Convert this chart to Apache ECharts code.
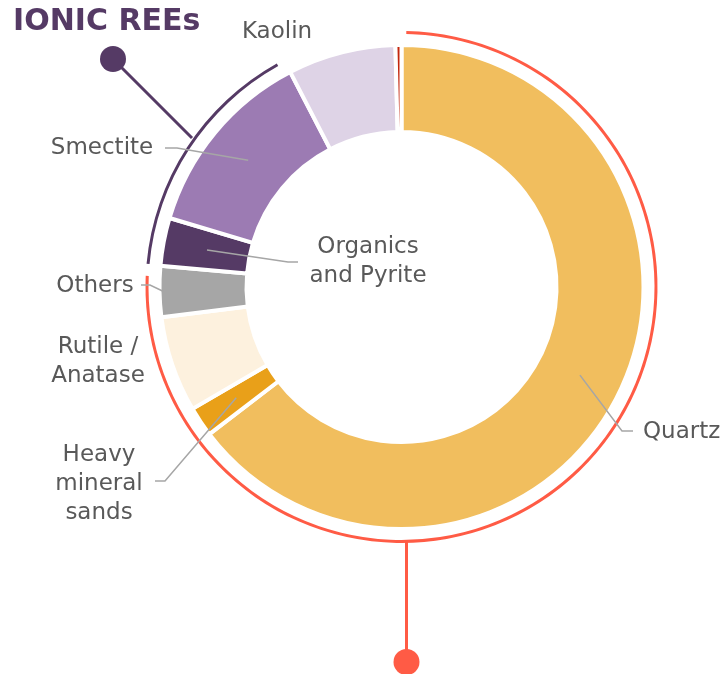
<!DOCTYPE html>
<html>
<head>
<meta charset="utf-8">
<title>Ionic REEs</title>
<script src="https://cdn.jsdelivr.net/npm/echarts@6/dist/echarts.min.js"></script>
<style>
  html, body { margin: 0; padding: 0; background: #fff; }
  #chart { width: 728px; height: 674px; }
</style>
</head>
<body>
<div id="chart"></div>
<script>
// mineral shares of the sample, in % (clockwise from 12 o'clock)
const minerals = ['Quartz', 'Heavy\nmineral\nsands', 'Rutile /\nAnatase', 'Others', 'Organics\nand Pyrite', 'Smectite', 'Kaolin', '']
const shares = [64.6, 2.0, 6.4, 3.4, 3.2, 12.8, 7.2, 0.4]
const colors = ['#F1BE5E', '#E9A019', '#FDF1DE', '#A6A6A6', '#553A65', '#9C7BB3', '#DED3E6', '#C4260C']

// outer callout arcs, in % of the circle (gap, red group, gap, ionic group, gap)
const arcShares = [0.3, 75.4, 0.75, 15.45, 8.1]
const arcColors = ['transparent', '#FF5B45', 'transparent', '#553A65', 'transparent']

const cx = 401.5
const cy = 287
const font = '"DejaVu Sans", sans-serif'

// where each label sits and how its leader line bends
const labelSpots = [
  { x: 643, y: 432, align: 'left', r: 199, bend: [[622, 431], [633, 431]] },
  { x: 99, y: 484, align: 'center', r: 199, bend: [[165, 481], [155, 481]] },
  { x: 98, y: 362, align: 'center' },
  { x: 95, y: 286, align: 'center', r: 238, bend: [[150, 285], [141, 285]] },
  { x: 368, y: 262, align: 'center', r: 198, bend: [[288, 262], [298, 262]] },
  { x: 102, y: 148, align: 'center', r: 199, bend: [[177, 148], [165, 148]] },
  { x: 277, y: 32, align: 'center' },
  null
]

// mid angle of every slice, degrees clockwise from top
const total = shares.reduce((a, b) => a + b, 0)
const midAngles = []
let acc = 0
shares.forEach(v => {
  midAngles.push((acc + v / 2) / total * 360)
  acc += v
})

const ring = {
  type: 'pie',
  center: [cx, cy],
  radius: [155, 242],
  startAngle: 90,
  clockwise: true,
  avoidLabelOverlap: false,
  emphasis: { disabled: true }
}

const chart = echarts.init(document.getElementById('chart'))

chart.setOption({
  animation: false,
  title: {
    text: 'IONIC REEs',
    left: 8,
    top: 2,
    textStyle: { color: '#553A65', fontSize: 30, fontWeight: 'bold', fontFamily: font }
  },
  series: [
    // the coloured ring
    Object.assign({}, ring, {
      z: 2,
      itemStyle: { borderColor: '#fff', borderWidth: 4 },
      label: { show: false },
      labelLine: { show: false },
      data: minerals.map((name, i) => ({ name: name, value: shares[i], itemStyle: { color: colors[i] } }))
    }),
    // same slices again, invisible, so the labels and leader lines sit on top
    Object.assign({}, ring, {
      z: 3,
      silent: true,
      itemStyle: { color: 'transparent', borderWidth: 0 },
      label: {
        show: true,
        position: 'outside',
        color: '#595959',
        fontSize: 23,
        lineHeight: 29,
        fontFamily: font
      },
      labelLine: {
        show: true,
        lineStyle: { color: '#A6A6A6', width: 1.5 }
      },
      labelLayout: function (params) {
        const spot = labelSpots[params.dataIndex]
        if (!spot) return {}
        const out = { x: spot.x, y: spot.y, align: spot.align, verticalAlign: 'middle' }
        if (spot.bend) {
          const a = midAngles[params.dataIndex] * Math.PI / 180
          const start = [cx + spot.r * Math.sin(a), cy - spot.r * Math.cos(a)]
          out.labelLinePoints = [start, spot.bend[0], spot.bend[1]]
        }
        return out
      },
      data: minerals.map((name, i) => ({
        name: name,
        value: shares[i],
        label: { show: !!labelSpots[i] },
        labelLine: { show: !!(labelSpots[i] && labelSpots[i].bend) }
      }))
    }),
    // callout arcs around the ring
    {
      type: 'pie',
      center: [cx, cy],
      radius: [253, 256],
      startAngle: 90,
      clockwise: true,
      silent: true,
      emphasis: { disabled: true },
      label: { show: false },
      labelLine: { show: false },
      data: arcShares.map((v, i) => ({ value: v, itemStyle: { color: arcColors[i] } }))
    }
  ],
  graphic: [
    { type: 'line', shape: { x1: 406.5, y1: 542, x2: 406.5, y2: 655 }, style: { stroke: '#FF5B45', lineWidth: 3 } },
    { type: 'circle', shape: { cx: 406.5, cy: 662, r: 13 }, style: { fill: '#FF5B45' } },
    { type: 'line', shape: { x1: 192, y1: 138, x2: 113, y2: 59 }, style: { stroke: '#553A65', lineWidth: 3 } },
    { type: 'circle', shape: { cx: 113, cy: 59, r: 13 }, style: { fill: '#553A65' } }
  ]
})
</script>
</body>
</html>
